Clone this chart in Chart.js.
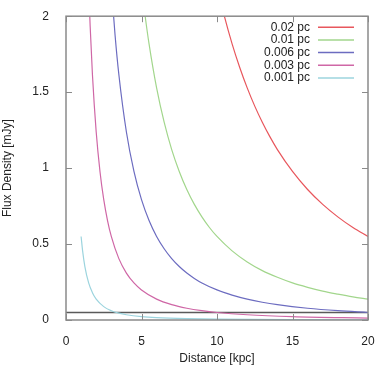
<!DOCTYPE html>
<html>
<head>
<meta charset="utf-8">
<script src="https://cdn.jsdelivr.net/npm/chart.js@4/dist/chart.umd.min.js"></script>
<style>
  html, body { margin: 0; padding: 0; background: #fff; }
  #wrap { width: 382px; height: 366px; }
</style>
</head>
<body>
<div id="wrap"><canvas id="chart"></canvas></div>
<script>
// distance [kpc] and flux density [mJy] per source size
const labels = ["0.02 pc", "0.01 pc", "0.006 pc", "0.003 pc", "0.001 pc"];
const colors = ["#e8575d", "#a2d68c", "#6c6cc0", "#cf67a6", "#9cd4de"];

const dist002 = [10, 10.5, 11, 11.5, 12, 12.5, 13, 13.5, 14, 15, 16, 17, 18, 19, 20];
const flux002 = [2.2, 1.995, 1.818, 1.664, 1.528, 1.408, 1.302, 1.207, 1.122, 0.978, 0.859, 0.761, 0.679, 0.609, 0.55];

const dist001 = [5, 5.25, 5.5, 6, 6.5, 7, 7.5, 8, 8.5, 9, 9.5, 10, 11, 12, 13, 14, 15, 16, 17, 18, 19, 20];
const flux001 = [2.2, 1.995, 1.818, 1.528, 1.302, 1.122, 0.978, 0.859, 0.761, 0.679, 0.609, 0.55, 0.455, 0.382, 0.325, 0.281, 0.244, 0.215, 0.190, 0.170, 0.152, 0.1375];

const dist0006 = [3, 3.25, 3.5, 4, 4.5, 5, 5.5, 6, 6.5, 7, 7.5, 8, 8.5, 9, 10, 11, 12, 13, 14, 16, 18, 20];
const flux0006 = [2.2, 1.875, 1.616, 1.2375, 0.978, 0.792, 0.655, 0.55, 0.469, 0.404, 0.352, 0.309, 0.274, 0.244, 0.198, 0.164, 0.1375, 0.117, 0.101, 0.0773, 0.0611, 0.0495];

const dist0003 = [1.5, 1.6, 1.75, 2, 2.25, 2.5, 2.75, 3, 3.5, 4, 4.5, 5, 6, 7, 8, 9, 10, 12, 15, 20];
const flux0003 = [2.2, 1.934, 1.616, 1.2375, 0.978, 0.792, 0.655, 0.55, 0.404, 0.309, 0.244, 0.198, 0.1375, 0.101, 0.0773, 0.0611, 0.0495, 0.0344, 0.022, 0.0124];

const dist0001 = [1, 1.1, 1.25, 1.5, 1.75, 2, 2.5, 3, 3.5, 4, 5, 6, 8, 10, 15, 20];
const flux0001 = [0.55, 0.455, 0.352, 0.244, 0.180, 0.1375, 0.088, 0.0611, 0.0449, 0.0344, 0.022, 0.0153, 0.0086, 0.0055, 0.0024, 0.0014];

// detection limit line
const limitDist = [0, 20];
const limitFlux = [0.05, 0.05];

const xTicks = [0, 5, 10, 15, 20];
const yTicks = [0, 0.5, 1, 1.5, 2];

function pairs(xs, ys) {
    return xs.map((x, i) => ({ x: x, y: ys[i] }));
}

const series = [
    pairs(dist002, flux002),
    pairs(dist001, flux001),
    pairs(dist0006, flux0006),
    pairs(dist0003, flux0003),
    pairs(dist0001, flux0001),
];

const datasets = series.map((data, i) => ({
    label: labels[i],
    data: data,
    borderColor: colors[i],
    borderWidth: 1.2,
    pointRadius: 0,
    cubicInterpolationMode: "monotone",
}));

datasets.push({
    label: "limit",
    data: pairs(limitDist, limitFlux),
    borderColor: "#5a5a5a",
    borderWidth: 1.5,
    pointRadius: 0,
});

// gnuplot style frame, inward ticks and key
const framePlugin = {
    id: "frame",
    afterDatasetsDraw(chart) {
        const ctx = chart.ctx;
        const area = chart.chartArea;
        const xs = chart.scales.x;
        const ys = chart.scales.y;
        ctx.save();
        ctx.strokeStyle = "#8a8a8a";
        ctx.lineWidth = 1.5;
        ctx.strokeRect(area.left, area.top, area.right - area.left, area.bottom - area.top);
        ctx.lineWidth = 1;
        ctx.beginPath();
        xTicks.forEach(v => {
            const px = Math.round(xs.getPixelForValue(v)) + 0.5;
            ctx.moveTo(px, area.bottom); ctx.lineTo(px, area.bottom - 6);
            ctx.moveTo(px, area.top); ctx.lineTo(px, area.top + 6);
        });
        yTicks.forEach(v => {
            const py = Math.round(ys.getPixelForValue(v)) + 0.5;
            ctx.moveTo(area.left, py); ctx.lineTo(area.left + 6, py);
            ctx.moveTo(area.right, py); ctx.lineTo(area.right - 6, py);
        });
        ctx.stroke();

        // key
        ctx.font = "12px 'Liberation Sans', Arial, sans-serif";
        ctx.textAlign = "right";
        ctx.textBaseline = "middle";
        labels.forEach((text, i) => {
            const y = area.top + 11 + i * 12.7;
            ctx.fillStyle = "#222";
            ctx.fillText(text, 310, y);
            ctx.strokeStyle = colors[i];
            ctx.lineWidth = 1.5;
            ctx.beginPath();
            ctx.moveTo(318, y);
            ctx.lineTo(354, y);
            ctx.stroke();
        });
        ctx.restore();
    }
};

new Chart(document.getElementById("chart"), {
    type: "line",
    data: { datasets: datasets },
    options: {
        responsive: true,
        maintainAspectRatio: false,
        animation: false,
        layout: { padding: { left: 0, right: 14, top: 16, bottom: 0 } },
        plugins: {
            legend: { display: false },
            tooltip: { enabled: false },
        },
        scales: {
            x: {
                type: "linear",
                min: 0,
                max: 20,
                afterFit: (scale) => { scale.height = 46; },
                afterBuildTicks: (scale) => { scale.ticks = xTicks.map(v => ({ value: v })); },
                grid: { display: false },
                border: { display: false },
                ticks: {
                    padding: 6,
                    color: "#222",
                    font: { family: "'Liberation Sans', Arial, sans-serif", size: 12 },
                    callback: (v) => String(v),
                },
                title: {
                    display: true,
                    text: "Distance [kpc]",
                    color: "#222",
                    padding: { top: 4, bottom: 0 },
                    font: { family: "'Liberation Sans', Arial, sans-serif", size: 12 },
                },
            },
            y: {
                min: 0,
                max: 2,
                afterFit: (scale) => { scale.width = 66; },
                afterBuildTicks: (scale) => { scale.ticks = yTicks.map(v => ({ value: v })); },
                grid: { display: false },
                border: { display: false },
                ticks: {
                    padding: 9,
                    color: "#222",
                    font: { family: "'Liberation Sans', Arial, sans-serif", size: 12 },
                    callback: (v) => String(v),
                },
                title: {
                    display: true,
                    text: "Flux Density [mJy]",
                    color: "#222",
                    padding: { top: 0, bottom: 4 },
                    font: { family: "'Liberation Sans', Arial, sans-serif", size: 12 },
                },
            },
        },
    },
    plugins: [framePlugin],
});
</script>
</body>
</html>
